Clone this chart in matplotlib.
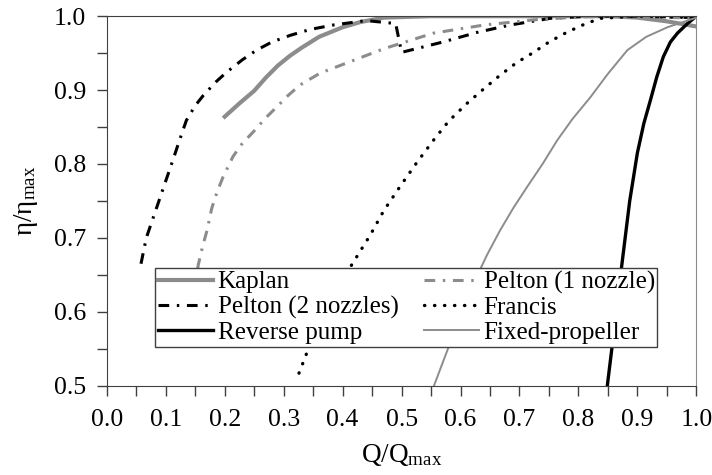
import matplotlib
matplotlib.use("Agg")
import matplotlib.pyplot as plt
from matplotlib.ticker import MultipleLocator

plt.rcParams["font.family"] = ["Liberation Serif", "DejaVu Serif"]
plt.rcParams["mathtext.fontset"] = "custom"
plt.rcParams["mathtext.rm"] = "Liberation Serif"
plt.rcParams["mathtext.it"] = "Liberation Serif:italic"

# curves (Q/Qmax, eta/eta_max)
kaplan_q = [0.20, 0.225, 0.25, 0.27, 0.29, 0.31, 0.33, 0.36, 0.40, 0.43, 0.47, 0.55, 0.70, 0.85, 0.90, 0.95, 1.00]
kaplan_e = [0.864, 0.882, 0.899, 0.917, 0.933, 0.946, 0.957, 0.972, 0.985, 0.992, 0.998, 1.0, 1.0, 1.0, 0.998, 0.993, 0.986]

pelton2_q = [0.058, 0.067, 0.085, 0.10, 0.112, 0.125, 0.135, 0.15, 0.164, 0.185, 0.203, 0.23, 0.254, 0.28,
             0.311, 0.345, 0.384, 0.44, 0.49, 0.50, 0.57, 0.628, 0.684, 0.752, 0.82, 0.90, 1.00]
pelton2_e = [0.665, 0.70, 0.742, 0.777, 0.805, 0.836, 0.859, 0.879, 0.893, 0.911, 0.924, 0.941, 0.954, 0.965,
             0.974, 0.982, 0.988, 0.994, 0.99, 0.951, 0.965, 0.978, 0.988, 0.997, 1.0, 1.0, 0.998]

pelton1_q = [0.148, 0.155, 0.163, 0.17, 0.178, 0.187, 0.197, 0.214, 0.23, 0.248, 0.268, 0.288, 0.308, 0.328,
             0.362, 0.418, 0.47, 0.554, 0.64, 0.724, 0.80, 0.90, 1.00]
pelton1_e = [0.62, 0.663, 0.69, 0.71, 0.74, 0.762, 0.782, 0.81, 0.828, 0.843, 0.861, 0.877, 0.893, 0.907,
             0.923, 0.94, 0.956, 0.977, 0.988, 0.995, 0.999, 1.0, 0.997]

francis_q = [0.326, 0.342, 0.38, 0.415, 0.447, 0.47, 0.497, 0.525, 0.554, 0.58, 0.611, 0.64, 0.667, 0.695,
             0.724, 0.75, 0.78, 0.81, 0.837, 0.90, 1.00]
francis_e = [0.517, 0.55, 0.61, 0.663, 0.704, 0.737, 0.769, 0.801, 0.832, 0.858, 0.882, 0.902, 0.92, 0.937,
             0.951, 0.965, 0.978, 0.989, 0.997, 1.0, 0.998]

reverse_q = [0.849, 0.862, 0.874, 0.887, 0.90, 0.911, 0.922, 0.933, 0.944, 0.956, 0.968, 0.985, 1.00]
reverse_e = [0.50, 0.585, 0.666, 0.75, 0.815, 0.855, 0.886, 0.918, 0.945, 0.965, 0.977, 0.99, 1.0]

fixed_q = [0.555, 0.582, 0.62, 0.645, 0.667, 0.69, 0.713, 0.74, 0.764, 0.79, 0.82, 0.85, 0.883, 0.915, 0.951, 1.00]
fixed_e = [0.50, 0.557, 0.635, 0.677, 0.71, 0.741, 0.769, 0.801, 0.832, 0.861, 0.89, 0.922, 0.954, 0.972, 0.985, 0.998]

fig, ax = plt.subplots(figsize=(7.12, 4.75), dpi=100)
fig.subplots_adjust(left=0.150, right=0.978, top=0.966, bottom=0.188)

ax.plot(kaplan_q, kaplan_e, color="#8c8c8c", lw=3.0, label="Kaplan")
ax.plot(pelton2_q, pelton2_e, color="black", lw=2.2, dashes=(3.5, 2.5, 0.8, 2.5), label="Pelton (2 nozzles)")
ax.plot(reverse_q, reverse_e, color="black", lw=2.4, label="Reverse pump")
ax.plot(pelton1_q, pelton1_e, color="#8c8c8c", lw=2.2, dashes=(3.5, 2.5, 0.8, 2.5), label="Pelton (1 nozzle)")
ax.plot(francis_q, francis_e, color="black", lw=2.4, dashes=(0.1, 2.9), dash_capstyle="round", label="Francis")
ax.plot(fixed_q, fixed_e, color="#8c8c8c", lw=1.4, label="Fixed-propeller")

ax.set_xlim(0, 1)
ax.set_ylim(0.5, 1.0)
ax.xaxis.set_major_locator(MultipleLocator(0.1))
ax.xaxis.set_minor_locator(MultipleLocator(0.05))
ax.yaxis.set_major_locator(MultipleLocator(0.1))
ax.yaxis.set_minor_locator(MultipleLocator(0.05))
ax.xaxis.set_major_formatter(lambda v, p: f"{v:.1f}")
ax.yaxis.set_major_formatter(lambda v, p: f"{v:.1f}")
ax.tick_params(which="both", direction="out", length=7, width=1.0, color="#404040", labelsize=18.5)
ax.tick_params(axis="x", pad=10)
ax.tick_params(axis="y", pad=8)

for s in ["left", "bottom", "top"]:
    ax.spines[s].set_color("#404040")
ax.spines["right"].set_color("#8c8c8c")

ax.set_xlabel(r"Q/Q$_{\mathrm{max}}$", fontsize=19.5, labelpad=8)
ax.set_ylabel(r"η/η$_{\mathrm{max}}$", fontsize=19.5, labelpad=10)

leg = ax.legend(ncol=2, loc="lower left", bbox_to_anchor=(0.082, 0.106), fontsize=18,
                frameon=True, fancybox=False, edgecolor="#404040", framealpha=1,
                handlelength=2.2, handletextpad=0.2, labelspacing=0.1, columnspacing=1.0,
                borderpad=0.1, borderaxespad=0)
leg.get_frame().set_linewidth(1.0)

fig.savefig("out.png", dpi=100)
